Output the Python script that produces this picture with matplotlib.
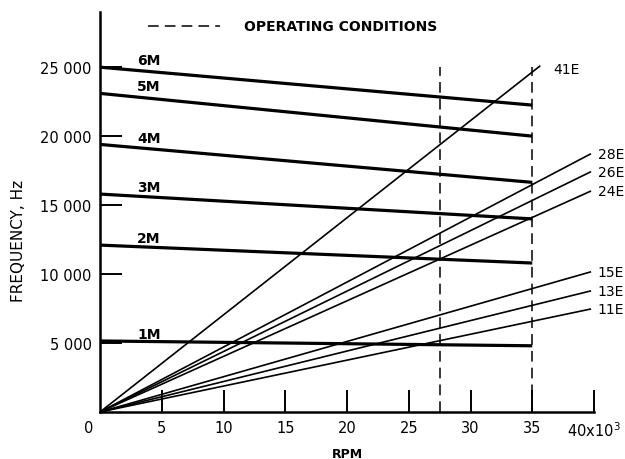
import matplotlib
matplotlib.use("Agg")
from matplotlib import pyplot as plt

plt.rcParams['font.family'] = ['Liberation Sans Narrow', 'DejaVu Sans']

# mode lines: frequency at 0 rpm and at 35 000 rpm
MODE_NAMES = ["1M", "2M", "3M", "4M", "5M", "6M"]
MODE_START = [5150, 12100, 15800, 19400, 23100, 25000]
MODE_END = [4800, 10800, 14000, 16650, 20000, 22250]
MODE_RPM_END = 35

# engine order lines from the origin: end point (rpm in 10^3, Hz)
ORDER_NAMES = ["11E", "13E", "15E", "24E", "26E", "28E", "41E"]
ORDER_RPM_END = [39.7, 39.7, 39.7, 39.7, 39.7, 39.7, 35.6]
ORDER_FREQ_END = [7460, 8770, 10150, 16000, 17400, 18700, 25070]

# operating conditions (rpm in 10^3)
OPERATING = [27.5, 35]

X_TICKS = [5, 10, 15, 20, 25, 30, 35, 40]
X_LABELS = ["5", "10", "15", "20", "25", "30", "35", "40x10$^3$"]
Y_TICKS = [5000, 10000, 15000, 20000, 25000]
Y_LABELS = ["5 000", "10 000", "15 000", "20 000", "25 000"]


def main():
    fig = plt.figure(figsize=(6.25, 4.6), dpi=100)
    ax = fig.add_axes([0.16, 0.1022, 0.7904, 0.8695])
    ax.set_xlim(0, 40)
    ax.set_ylim(0, 29000)

    for name, f0, f1 in zip(MODE_NAMES, MODE_START, MODE_END):
        ax.plot([0, MODE_RPM_END], [f0, f1], '-', color='black', lw=2.3,
                solid_capstyle='butt')
        ax.text(3.0, f0 + 500, name, fontsize=10, fontweight='bold',
                ha='left', va='center')

    for name, r1, f1 in zip(ORDER_NAMES, ORDER_RPM_END, ORDER_FREQ_END):
        ax.plot([0, r1], [0, f1], '-', color='black', lw=1.2)
        if name == "41E":
            ax.text(r1 + 1.1, f1 - 200, name, fontsize=10, ha='left', va='center')
        else:
            ax.text(r1 + 0.6, f1, name, fontsize=10, ha='left', va='center')

    for r in OPERATING:
        ax.plot([r, r], [0, 25000], color='black', lw=1.1, dashes=(7, 4))

    # legend at top
    ax.plot([3.85, 9.7], [27950, 27950], color='black', lw=1.1, dashes=(7, 4),
            clip_on=False)
    ax.text(11.7, 27950, "OPERATING CONDITIONS", fontsize=10, fontweight='bold',
            ha='left', va='center')

    for side in ['top', 'right']:
        ax.spines[side].set_visible(False)
    ax.spines['left'].set_linewidth(1.8)
    ax.spines['bottom'].set_linewidth(1.8)

    ax.set_xticks(X_TICKS)
    ax.set_xticklabels(X_LABELS, fontsize=10.5)
    ax.set_yticks(Y_TICKS)
    ax.set_yticklabels(Y_LABELS, fontsize=10.5)
    ax.tick_params(axis='both', direction='in', length=16, width=1.4,
                   color='black', pad=6)
    ax.text(-0.9, -1100, "0", fontsize=10.5, ha='center', va='center')

    ax.set_xlabel("RPM", fontsize=9, fontweight='bold', labelpad=6)
    ax.set_ylabel("FREQUENCY, Hz", fontsize=11)
    ax.yaxis.set_label_coords(-0.15, 0.43)

    fig.savefig("out.png", dpi=100)


if __name__ == "__main__":
    main()
